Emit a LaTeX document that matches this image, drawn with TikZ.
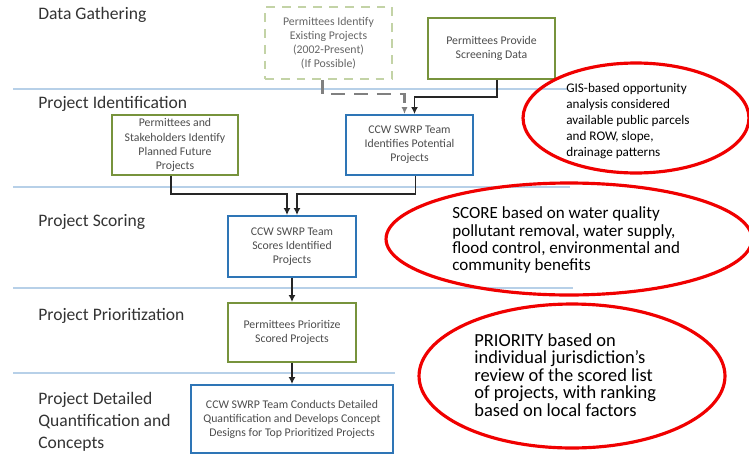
\documentclass[tikz,border=0pt]{standalone}
\usepackage{fontspec}
\setmainfont{Carlito}
\usetikzlibrary{arrows.meta,positioning,calc,shapes.geometric}
\definecolor{BoxGreen}{HTML}{77933C}
\definecolor{BoxBlue}{HTML}{2E75B6}
\definecolor{PaleGreen}{HTML}{C3D3A6}
\definecolor{RuleBlue}{HTML}{B7D0E8}
\definecolor{OvalRed}{HTML}{F00000}

\tikzset{
  phase/.style={anchor=west,align=left,inner sep=0pt,text=black!80,font=\fontsize{10}{12.5}\selectfont},
  greenbox/.style={draw=BoxGreen,line width=1.1pt,align=center,inner sep=0pt,text=black!70,font=\fontsize{6.7}{8}\selectfont},
  bluebox/.style={greenbox,draw=BoxBlue},
  optbox/.style={greenbox,draw=PaleGreen,dash pattern=on 5pt off 4pt,text=black!60},
  flow/.style={draw=black!85,line width=1.1pt,-{Latex[length=4pt,width=4pt]}},
  optflow/.style={draw=black!50,line width=1.6pt,dash pattern=on 8pt off 5pt,-{Latex[length=4pt,width=3.5pt]}},
  oval/.style={ellipse,draw=OvalRed,line width=1.8pt,inner sep=0pt},
  ovaltext/.style={anchor=west,align=left,inner sep=0pt,text=black}
}

\begin{document}
\begin{tikzpicture}[x=0.02cm,y=-0.02cm]
  \useasboundingbox (0,0) rectangle (749,463);
  % --- separateurs des phases ---
  \draw[RuleBlue,line width=0.8pt] (13,89) -- (567,89);
  \draw[RuleBlue,line width=0.8pt] (13,187) -- (570,187);
  \draw[RuleBlue,line width=0.8pt] (13,288) -- (573,288);
  \draw[RuleBlue,line width=0.8pt] (13,373) -- (395,373);
  % --- noms des phases ---
  \node[phase] (pgather) at (38,15) {Data Gathering};
  \node[phase] (pident) at (38,104) {Project Identification};
  \node[phase] (pscore) at (38,222) {Project Scoring};
  \node[phase] (pprior) at (38,316) {Project Prioritization};
  \node[phase] (pdetail) at (38,421.5) {Project Detailed\\Quantification and\\Concepts};
  % --- etapes ---
  \node[optbox,minimum width=2.54cm,minimum height=1.44cm] (exist) at (328.5,43) {Permittees Identify\\Existing Projects\\(2002-Present)\\(If Possible)};
  \node[greenbox,minimum width=2.54cm,minimum height=1.22cm] (screen) at (491.5,48.5) {Permittees Provide\\Screening Data};
  \node[bluebox,minimum width=2.54cm,minimum height=1.2cm] (potential) at (409.5,145) {CCW SWRP Team\\Identifies Potential\\Projects};
  \node[greenbox,minimum width=2.52cm,minimum height=1.2cm] (planned) at (175,145) {Permittees and\\Stakeholders Identify\\Planned Future\\Projects};
  \node[bluebox,minimum width=2.56cm,minimum height=1.22cm] (scores) at (292,246.5) {CCW SWRP Team\\Scores Identified\\Projects};
  \node[greenbox,minimum width=2.56cm,minimum height=1.18cm] (prior) at (292,332.5) {Permittees Prioritize\\Scored Projects};
  \node[bluebox,minimum width=4.04cm,minimum height=1.36cm] (detail) at (292,419) {CCW SWRP Team Conducts Detailed\\Quantification and Develops Concept\\Designs for Top Prioritized Projects};
  % --- liaisons ---
  \draw[optflow] ($(exist.south)+(-6,0)$) |- ($(potential.north)+(-5,-20)$) -- ($(potential.north)+(-5,0)$);
  \draw[flow] ($(screen.south)+(5.5,0)$) |- ($(potential.north)+(5,-17)$) -- ($(potential.north)+(5,0)$);
  \draw[flow] ($(planned.south)+(-4,0)$) |- ($(scores.north)+(-5,-21)$) -- ($(scores.north)+(-5,0)$);
  \draw[flow] ($(potential.south)+(6,0)$) |- ($(scores.north)+(5,-21)$) -- ($(scores.north)+(5,0)$);
  \draw[flow] (scores) -- (prior);
  \draw[flow] (prior) -- (detail);
  % --- remarques entourees ---
  \node[oval,minimum width=4.52cm,minimum height=2.2cm] (gis) at (636,118) {};
  \node[ovaltext,font=\fontsize{7.5}{9.1}\selectfont] (gistext) at (566,121) {GIS-based opportunity\\analysis considered\\available public parcels\\and ROW, slope,\\drainage patterns};
  \node[oval,minimum width=7.32cm,minimum height=2.24cm] (score) at (569,239) {};
  \node[ovaltext,font=\fontsize{9.7}{9.7}\selectfont] (scoretext) at (452,240) {SCORE based on water quality\\pollutant removal, water supply,\\flood control, environmental and\\community benefits};
  \node[oval,minimum width=6.12cm,minimum height=2.88cm] (priority) at (572,376) {};
  \node[ovaltext,font=\fontsize{10.5}{10}\selectfont] (prioritytext) at (474,375) {PRIORITY based on\\individual jurisdiction’s\\review of the scored list\\of projects, with ranking\\based on local factors};
\end{tikzpicture}
\end{document}
